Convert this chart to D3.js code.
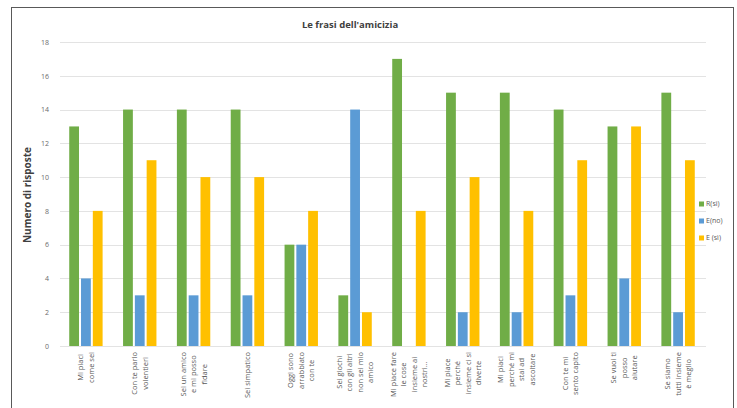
<!DOCTYPE html>
<html><head><meta charset="utf-8">
<script src="https://cdn.jsdelivr.net/npm/d3@7"></script>
<style>
body{margin:0;background:#fff;}
svg{display:block;font-family:"Open Sans","Noto Sans",sans-serif;}
</style></head><body>
<svg id="c" width="737" height="408"></svg>
<script>
const categories = [
  ["Mi piaci","come sei"],
  ["Con te parlo","volentieri"],
  ["Sei un amico","e mi posso","fidare"],
  ["Sei simpatico"],
  ["Oggi sono","arrabbiato","con te"],
  ["Sei giochi","con gli altri","non sei mio","amico"],
  ["Mi piace fare","le cose","insieme ai","nostri…"],
  ["Mi piace","perché","insieme ci si","diverte"],
  ["Mi piaci","perché mi","stai ad","ascoltare"],
  ["Con te mi","sento capito"],
  ["Se vuoi ti","posso","aiutare"],
  ["Se siamo","tutti insieme","è meglio"]
];
const seriesNames = ["R(sì)","E(no)","E (sì)"];
const rSi  = [13,14,14,14,6,3,17,15,15,14,13,15];
const eNo  = [4,3,3,3,6,14,0,2,2,3,4,2];
const eSi  = [8,11,10,10,8,2,8,10,8,11,13,11];
const yTicks = [0,2,4,6,8,10,12,14,16,18];
const colors = ["#70AD47","#5B9BD5","#FFC000"];
const series = [rSi,eNo,eSi];

const svg = d3.select("#c");
svg.append("rect").attr("x",11.5).attr("y",7.5).attr("width",722).attr("height",420)
  .attr("fill","#fff").attr("stroke","#595959").attr("stroke-width",1);

const pL=60,pR=706,pT=42,pB=346;
const x = d3.scaleBand().domain(d3.range(categories.length)).range([pL-1,pR-1]).paddingInner(0.38).paddingOuter(0.19);
const xs = d3.scaleBand().domain(d3.range(3)).range([0,x.bandwidth()]).paddingInner(0.17).paddingOuter(0);
const y = d3.scaleLinear().domain([0,18]).range([pB,pT]);

svg.append("g").selectAll("line").data(yTicks).join("line")
  .attr("x1",pL).attr("x2",pR).attr("y1",d=>Math.round(y(d))+0.5).attr("y2",d=>Math.round(y(d))+0.5)
  .attr("stroke","#e3e3e3").attr("stroke-width",1);

const ya = svg.append("g").attr("transform",`translate(${pL},0)`)
  .call(d3.axisLeft(y).tickValues(yTicks).tickSize(0).tickPadding(11));
ya.select(".domain").remove();
ya.selectAll("text").attr("fill","#6b6b6b").style("font-size","7px").style("font-family","'Open Sans',sans-serif");

series.forEach((s,si)=>{
  svg.append("g").selectAll("rect").data(s).join("rect")
    .attr("x",(d,i)=>x(i)+xs(si)).attr("width",xs.bandwidth())
    .attr("y",d=>y(d)).attr("height",d=>y(0)-y(d)).attr("fill",colors[si]);
});

const lineH = 10.5;
const lg = svg.append("g");
categories.forEach((lines,i)=>{
  const cx = x(i)+x.bandwidth()/2;
  const g = lg.append("g").attr("transform",`translate(${cx},352) rotate(-90)`);
  const texts = g.selectAll("text").data(lines).join("text")
    .attr("text-anchor","middle").attr("dy","0.35em")
    .attr("y",(d,j)=>(j-(lines.length-1)/2)*lineH)
    .attr("fill","#595959").style("font-size","7.5px")
    .text(d=>d);
  let maxW=0; texts.each(function(){maxW=Math.max(maxW,this.getComputedTextLength());});
  texts.attr("x",-maxW/2);
});

svg.append("text").attr("x",350).attr("y",28).attr("text-anchor","middle")
  .attr("fill","#404040").style("font-size","9.5px").style("font-weight","bold")
  .text("Le frasi dell'amicizia");

svg.append("text").attr("transform","translate(31,195) rotate(-90)").attr("text-anchor","middle")
  .attr("fill","#404040").style("font-size","10px").style("font-weight","bold")
  .text("Numero di risposte");

const leg = svg.append("g").selectAll("g").data(seriesNames).join("g")
  .attr("transform",(d,i)=>`translate(699,${204+i*17})`);
leg.append("rect").attr("x",0).attr("y",-2.5).attr("width",5).attr("height",5).attr("fill",(d,i)=>colors[i]);
leg.append("text").attr("x",7).attr("dy","0.35em").attr("fill","#595959").style("font-size","7px").text(d=>d);
</script>
</body></html>
